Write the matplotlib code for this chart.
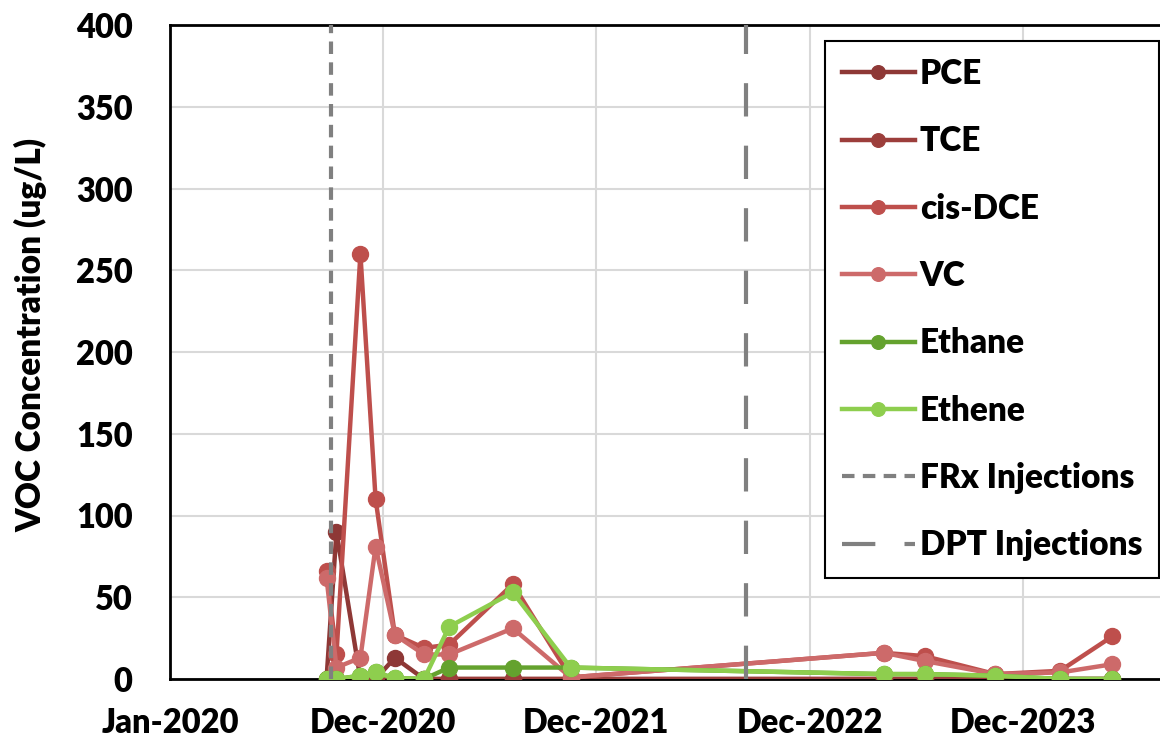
import matplotlib
matplotlib.use("Agg")
import matplotlib.pyplot as plt
import numpy as np
import pandas as pd

# ---- data ----
dates = ['2020-09-25', '2020-10-12', '2020-11-22', '2020-12-18', '2021-01-20',
         '2021-03-11', '2021-04-23', '2021-08-10', '2021-11-17', '2023-05-07',
         '2023-07-16', '2023-11-14', '2024-03-04', '2024-06-01']
pce    = [0, 90, 0, 0, 13, 0, 0, 0, 0, 0, 0, 0, 0, 0]
tce    = [0, 0, 0, 0, 0, 0, 0, 0, 0, 0, 0, 0, 0, 0]
cisdce = [66, 15, 260, 110, 27, 19, 21, 58, 1, 16, 14, 3, 5, 26]
vc     = [62, 7, 13, 81, 27, 15, 15, 31, 1, 16, 11, 3, 4, 9]
ethane = [0, 0, 2, 4, 0.5, 0, 7, 7, 7, 3, 3, 2, 0, 0]
ethene = [0, 0, 2, 4, 0.5, 0, 32, 53, 7, 3, 3, 2, 0, 0]
frx_date = '2020-10-02'
dpt_date = '2022-09-14'
tick_dates = ['2020-01-01', '2020-12-31', '2021-12-31', '2022-12-31', '2023-12-31']
tick_labels = ['Jan-2020', 'Dec-2020', 'Dec-2021', 'Dec-2022', 'Dec-2023']
x_range = ['2020-01-01', '2024-08-22']
y_ticks = [0, 50, 100, 150, 200, 250, 300, 350, 400]

series = [
    ('PCE', pce, '#8E3836'),
    ('TCE', tce, '#9C3E3B'),
    ('cis-DCE', cisdce, '#BE4F4C'),
    ('VC', vc, '#CD6A6A'),
    ('Ethane', ethane, '#64A22E'),
    ('Ethene', ethene, '#8ECE4E'),
]

plt.rcParams['font.family'] = ['Lato', 'DejaVu Sans']
plt.rcParams['font.weight'] = 'heavy'

fig = plt.figure(figsize=(11.6, 7.46), dpi=100)
L, B = 170 / 1160, 1 - 679 / 746
T = 1 - 25 / 746
ax = fig.add_axes([L, B, 1.0 - L, T - B])

x = pd.to_datetime(dates)
for name, vals, col in series:
    ax.plot(x, vals, color=col, lw=3.2, marker='o', ms=11.5, label=name, zorder=3)

ax.axvline(pd.Timestamp(frx_date), color='#808080', lw=3, ls=(0, (3.0, 2.0)),
           label='FRx Injections', zorder=4)
ax.axvline(pd.Timestamp(dpt_date), color='#808080', lw=3, ls=(0, (8, 7)),
           label='DPT Injections', zorder=4)

ax.set_xlim(pd.Timestamp(x_range[0]), pd.Timestamp(x_range[1]))
ax.set_ylim(0, 400)
ax.set_yticks(y_ticks)
ax.set_xticks(pd.to_datetime(tick_dates))
ax.set_xticklabels(tick_labels)
ax.grid(True, color='#D9D9D9', lw=1.5, zorder=0)
ax.set_axisbelow(True)
ax.tick_params(axis='both', length=0, labelsize=23.5)
ax.tick_params(axis='y', pad=27)
ax.tick_params(axis='x', pad=20)
for s in ['left', 'bottom', 'top']:
    ax.spines[s].set_linewidth(2)
    ax.spines[s].set_color('black')
ax.spines['right'].set_visible(False)
ax.set_ylabel('VOC Concentration (ug/L)', fontsize=24, fontweight='heavy')
ax.yaxis.set_label_coords(-0.124, 0.526)

leg = ax.legend(loc='upper right', bbox_to_anchor=(0.999, 0.975), fontsize=24,
                frameon=True, fancybox=False, edgecolor='black', framealpha=1,
                handlelength=2.2, handletextpad=0.15, labelspacing=1.06,
                borderpad=0.5, markerscale=0.85, borderaxespad=0)
leg.get_frame().set_linewidth(1.5)
leg.set_zorder(10)

fig.savefig('out.png', dpi=100)
